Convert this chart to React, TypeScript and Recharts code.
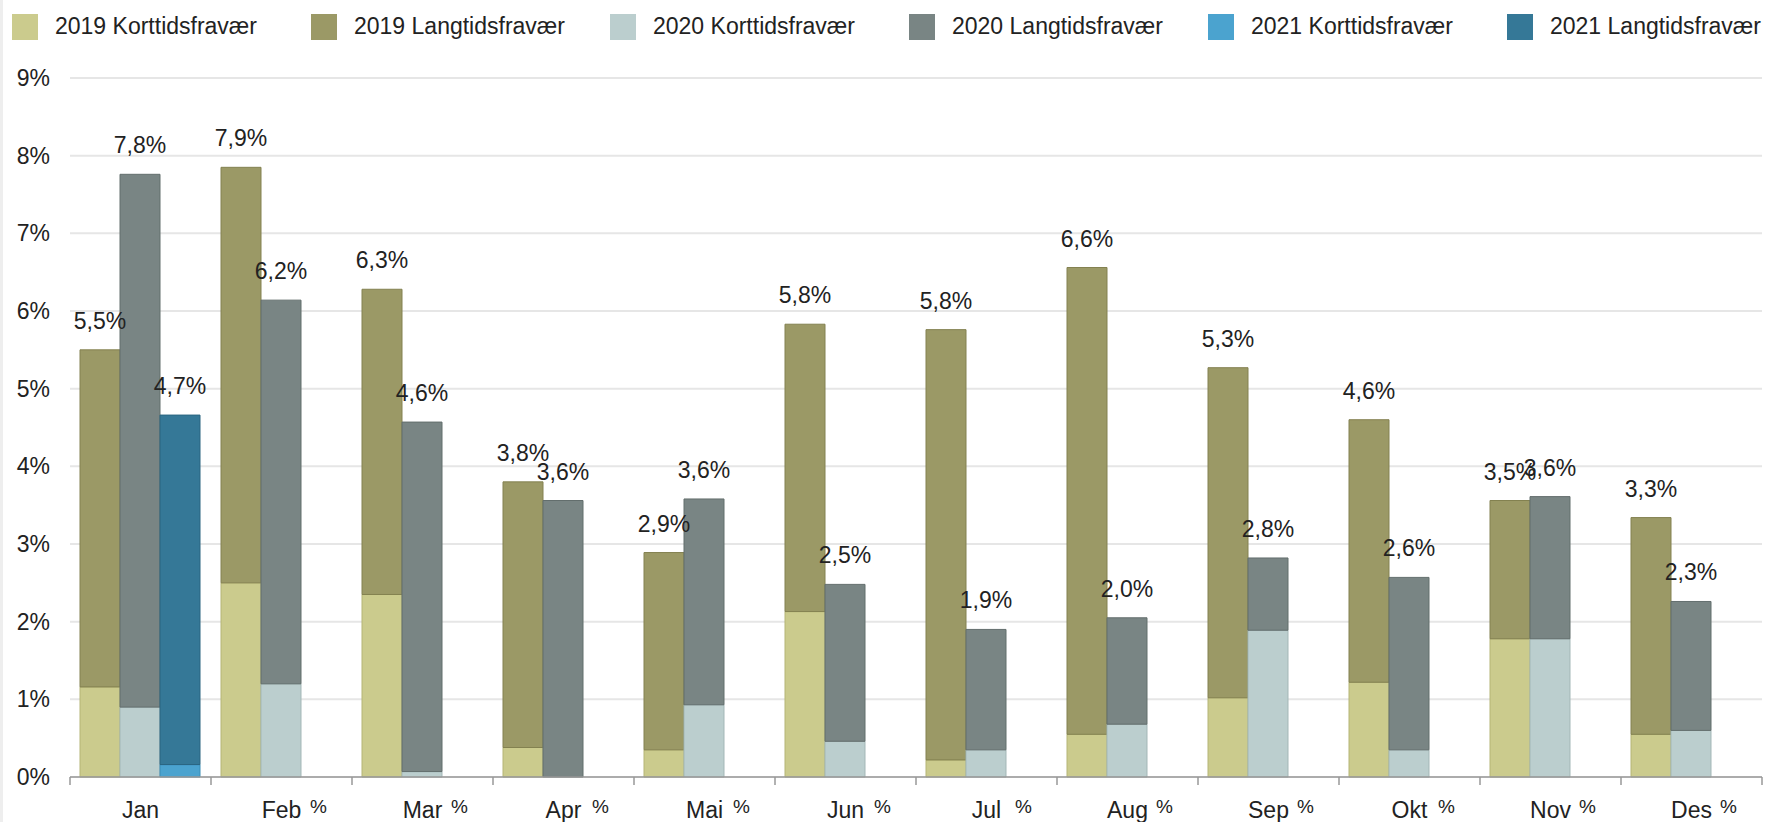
import React from "react";
import { BarChart, Bar, XAxis, YAxis, CartesianGrid, LabelList } from "recharts";

const W = 1766;
const H = 822;
const FONT = '"Liberation Sans", Arial, sans-serif';

// måneder og prosentverdier (lest av bildet)
const months = ["Jan", "Feb", "Mar", "Apr", "Mai", "Jun", "Jul", "Aug", "Sep", "Okt", "Nov", "Des"];
const kort2019 = [1.16, 2.5, 2.35, 0.38, 0.35, 2.13, 0.22, 0.55, 1.02, 1.22, 1.78, 0.55];
const lang2019 = [4.34, 5.35, 3.93, 3.42, 2.54, 3.7, 5.54, 6.01, 4.25, 3.38, 1.78, 2.79];
const kort2020 = [0.9, 1.2, 0.07, 0, 0.93, 0.46, 0.35, 0.68, 1.89, 0.35, 1.78, 0.6];
const lang2020 = [6.86, 4.94, 4.5, 3.56, 2.65, 2.02, 1.55, 1.37, 0.93, 2.22, 1.83, 1.66];
const kort2021 = [0.16, null, null, null, null, null, null, null, null, null, null, null];
const lang2021 = [4.5, null, null, null, null, null, null, null, null, null, null, null];
// etikettene over søylene
const total2019 = [5.5, 7.9, 6.3, 3.8, 2.9, 5.8, 5.8, 6.6, 5.3, 4.6, 3.5, 3.3];
const total2020 = [7.8, 6.2, 4.6, 3.6, 3.6, 2.5, 1.9, 2.0, 2.8, 2.6, 3.6, 2.3];
const total2021 = [4.7, null, null, null, null, null, null, null, null, null, null, null];
const yTicks = [0, 1, 2, 3, 4, 5, 6, 7, 8, 9];

const data = months.map((m, i) => ({
  month: m,
  k19: kort2019[i],
  l19: lang2019[i],
  k20: kort2020[i],
  l20: lang2020[i],
  k21: kort2021[i],
  l21: lang2021[i],
}));

const series = [
  { key: "k19", stack: "2019", name: "2019 Korttidsfravær", fill: "#CBCB8D", stroke: "#b5b577" },
  { key: "l19", stack: "2019", name: "2019 Langtidsfravær", fill: "#9B9966", stroke: "#838150", totals: total2019 },
  { key: "k20", stack: "2020", name: "2020 Korttidsfravær", fill: "#BBCECE", stroke: "#a3b7b7" },
  { key: "l20", stack: "2020", name: "2020 Langtidsfravær", fill: "#798584", stroke: "#636e6d", totals: total2020 },
  { key: "k21", stack: "2021", name: "2021 Korttidsfravær", fill: "#4BA3CF", stroke: "#3a8db6" },
  { key: "l21", stack: "2021", name: "2021 Langtidsfravær", fill: "#357897", stroke: "#2a6580", totals: total2021 },
];

const MARGIN = { top: 78, right: 4, bottom: 0, left: 0 };
const Y_W = 70;
const PLOT_W = W - MARGIN.left - MARGIN.right - Y_W;
const BAND = PLOT_W / months.length;

const fmt = (v: number) => v.toFixed(1).replace(".", ",") + "%";

const MonthTick = (props: any) => {
  const { x, y, payload, index } = props;
  const left = x - BAND / 2;
  return (
    <g>
      <line x1={left} x2={left} y1={y} y2={y + 8} stroke="#999" strokeWidth={1.5} />
      {index === months.length - 1 && (
        <line x1={left + BAND} x2={left + BAND} y1={y} y2={y + 8} stroke="#999" strokeWidth={1.5} />
      )}
      <text x={x} y={y + 41} textAnchor="middle" fill="#222" fontSize={23} fontFamily={FONT}>
        {payload.value}
      </text>
      {index > 0 && (
        <text x={x + 37} y={y + 36} textAnchor="middle" fill="#222" fontSize={19} fontFamily={FONT}>
          %
        </text>
      )}
    </g>
  );
};

const totalLabel = (totals: (number | null)[]) => (props: any) => {
  const { x, y, width, index } = props;
  const t = totals[index];
  if (t == null) return null;
  return (
    <text
      x={x + width / 2}
      y={y - 29}
      textAnchor="middle"
      dominantBaseline="central"
      fill="#222"
      fontSize={23}
      fontFamily={FONT}
    >
      {fmt(t)}
    </text>
  );
};

function LegendRow() {
  return (
    <div style={{ position: "absolute", left: 9, top: 13, display: "flex", whiteSpace: "nowrap" }}>
      {series.map((s) => (
        <div key={s.key} style={{ width: 299, display: "flex", alignItems: "center" }}>
          <span style={{ width: 26, height: 26, background: s.fill, display: "inline-block", marginRight: 17 }} />
          <span style={{ fontSize: 23, fontFamily: FONT, color: "#222" }}>{s.name}</span>
        </div>
      ))}
    </div>
  );
}

export default function App() {
  return (
    <div
      style={{
        position: "absolute",
        left: 0,
        top: 0,
        width: W,
        height: H,
        background: "#fff",
        overflow: "hidden",
        borderLeft: "3px solid #eee",
        boxSizing: "border-box",
      }}
    >
      <LegendRow />
      <div style={{ position: "absolute", left: -3, top: 0 }}>
        <BarChart width={W} height={H} data={data} margin={MARGIN} barCategoryGap={10} barGap={0}>
          <CartesianGrid vertical={false} stroke="#e6e6e6" strokeWidth={2} />
          <XAxis
            dataKey="month"
            height={45}
            interval={0}
            tickSize={0}
            tickMargin={0}
            tickLine={false}
            axisLine={{ stroke: "#999", strokeWidth: 1.5 }}
            tick={<MonthTick />}
          />
          <YAxis
            width={Y_W}
            domain={[0, 9]}
            ticks={yTicks}
            axisLine={false}
            tickLine={false}
            tickSize={0}
            tickMargin={20}
            tickFormatter={(v: number) => `${v}%`}
            tick={{ fill: "#222", fontSize: 23, fontFamily: FONT }}
          />
          {series.map((s) => (
            <Bar
              key={s.key}
              dataKey={s.key}
              stackId={s.stack}
              name={s.name}
              fill={s.fill}
              stroke={s.stroke}
              strokeWidth={1}
              isAnimationActive={false}
            >
              {s.totals && <LabelList dataKey={s.key} content={totalLabel(s.totals)} />}
            </Bar>
          ))}
        </BarChart>
      </div>
    </div>
  );
}
